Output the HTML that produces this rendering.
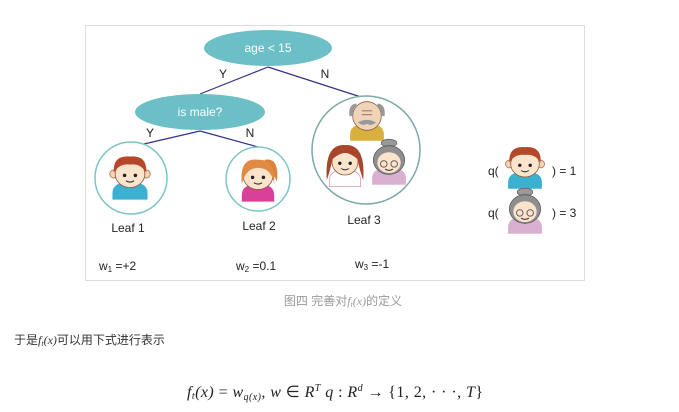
<!DOCTYPE html>
<html><head><meta charset="utf-8"><style>
html,body{margin:0;padding:0;background:#fff;width:679px;height:412px;overflow:hidden}
svg{display:block}
</style></head><body>
<svg width="679" height="412" viewBox="0 0 679 412" xmlns="http://www.w3.org/2000/svg">
<defs>
<g id="boy">
 <path d="M-13 14 Q-13 6 0 6 Q13 6 13 14 L13 19 L-13 19Z" fill="#3bb0d0"/>
 <circle cx="-12" cy="0" r="3" fill="#f4d4b8" stroke="#a86a4a" stroke-width=".6"/>
 <circle cx="12" cy="0" r="3" fill="#f4d4b8" stroke="#a86a4a" stroke-width=".6"/>
 <ellipse cx="0" cy="0" rx="11" ry="10" fill="#fbe3cc" stroke="#8a5a3a" stroke-width=".6"/>
 <path d="M-12 -1 Q-13 -14 0 -13 Q13 -14 12 -1 Q8 -8 0 -7 Q-8 -8 -12 -1Z" fill="#b5482a"/>
 <circle cx="-4" cy="1" r="1.3" fill="#222"/><circle cx="4" cy="1" r="1.3" fill="#222"/>
 <path d="M-3 5 Q0 7 3 5" stroke="#333" stroke-width=".8" fill="none"/>
</g>
<g id="girl">
 <path d="M-12 14 Q-12 6 0 6 Q12 6 12 14 L12 19 L-12 19Z" fill="#d9409a"/>
 <path d="M5 -12 Q16 -14 14 4 Q10 -4 5 -6Z" fill="#d9843a"/>
 <ellipse cx="0" cy="0" rx="11" ry="10" fill="#fbe3cc" stroke="#8a5a3a" stroke-width=".6"/>
 <path d="M-12 6 Q-14 -14 0 -12 Q13 -13 12 6 Q10 -6 0 -6 Q-9 -6 -12 6Z" fill="#e08a44"/>
 <circle cx="-4" cy="1" r="1.3" fill="#222"/><circle cx="4" cy="1" r="1.3" fill="#222"/>
 <path d="M-3 5 Q0 7 3 5" stroke="#333" stroke-width=".8" fill="none"/>
</g>
<g id="woman">
 <path d="M-12 14 Q-12 6 0 6 Q12 6 12 14 L12 19 L-12 19Z" fill="#fff" stroke="#c8a" stroke-width=".5"/>
 <path d="M-14 14 Q-16 -14 0 -13 Q16 -14 14 14 Q10 2 10 -2 L-10 -2 Q-10 2 -14 14Z" fill="#a8452a"/>
 <ellipse cx="0" cy="0" rx="10" ry="10" fill="#fbe3cc" stroke="#8a5a3a" stroke-width=".6"/>
 <path d="M-10 -2 Q-8 -12 0 -11 Q8 -12 10 -2 Q4 -7 0 -7 Q-4 -7 -10 -2Z" fill="#a8452a"/>
 <circle cx="-4" cy="1" r="1.3" fill="#222"/><circle cx="4" cy="1" r="1.3" fill="#222"/>
 <path d="M-3 5 Q0 7 3 5" stroke="#333" stroke-width=".8" fill="none"/>
</g>
<g id="granny">
 <path d="M-13 14 Q-13 6 0 6 Q13 6 13 14 L13 19 L-13 19Z" fill="#d9b0d0"/>
 <ellipse cx="0" cy="-13" rx="6" ry="3" fill="#999" stroke="#555" stroke-width=".5"/>
 <ellipse cx="0" cy="0" rx="12" ry="11" fill="#8f8f8f" stroke="#555" stroke-width=".6"/>
 <ellipse cx="0" cy="2" rx="9" ry="8" fill="#fbe3cc"/>
 <circle cx="-4" cy="3" r="2.5" fill="none" stroke="#555" stroke-width=".7"/><circle cx="4" cy="3" r="2.5" fill="none" stroke="#555" stroke-width=".7"/>
 <path d="M-3 7 Q0 9 3 7" stroke="#333" stroke-width=".8" fill="none"/>
</g>
<g id="grandpa">
 <path d="M-13 14 Q-13 6 0 6 Q13 6 13 14 L13 19 L-13 19Z" fill="#d9b040"/>
 <ellipse cx="0" cy="0" rx="11" ry="11" fill="#f0d4b8" stroke="#8a5a3a" stroke-width=".6"/>
 <path d="M-12 0 Q-13 -8 -8 -8 M12 0 Q13 -8 8 -8" stroke="#999" stroke-width="3" fill="none"/>
 <path d="M-7 5 Q0 1 7 5 Q3 8 0 6 Q-3 8 -7 5Z" fill="#999"/>
 <path d="M-4 -4 L4 -4 M-4 -1 L4 -1" stroke="#a77" stroke-width=".8"/>
</g>
</defs>
<rect x="85.5" y="25.5" width="499" height="255" fill="#fff" stroke="#ddd" stroke-width="1"/>
<g stroke="#33338a" stroke-width="1.2" fill="none">
 <line x1="268" y1="67" x2="200" y2="94"/>
 <line x1="268" y1="67" x2="364" y2="98"/>
 <line x1="200" y1="131" x2="131" y2="147"/>
 <line x1="200" y1="131" x2="258" y2="147"/>
</g>
<ellipse cx="268" cy="48" rx="64" ry="18" fill="#6cbfc6"/>
<ellipse cx="200" cy="112" rx="65" ry="18" fill="#6cbfc6"/>
<g font-family="Liberation Sans, sans-serif" font-size="12" fill="#fff" text-anchor="middle">
 <text x="268" y="52">age &lt; 15</text>
 <text x="200" y="116">is male?</text>
</g>
<g stroke="#7cc5c8" stroke-width="1.5" fill="#fff">
 <circle cx="131" cy="178" r="36"/>
 <circle cx="258" cy="179" r="32"/>
</g>
<circle cx="366" cy="150" r="54" fill="#fff" stroke="#7aa9a6" stroke-width="1.5"/>
<use href="#boy" transform="translate(130,174) scale(1.35)"/>
<use href="#girl" transform="translate(258,176) scale(1.35)"/>
<use href="#grandpa" transform="translate(367,116) scale(1.3)"/>
<use href="#woman" transform="translate(345,162) scale(1.3)"/>
<use href="#granny" transform="translate(389,160) scale(1.3)"/>
<use href="#boy" transform="translate(525,164) scale(1.3)"/>
<use href="#granny" transform="translate(525,209) scale(1.3)"/>
<g font-family="Liberation Sans, sans-serif" font-size="12" fill="#222" text-anchor="middle">
 <text x="223" y="78">Y</text><text x="325" y="78">N</text>
 <text x="150" y="137">Y</text><text x="250" y="137">N</text>
 <text x="128" y="232">Leaf 1</text>
 <text x="259" y="230">Leaf 2</text>
 <text x="364" y="224">Leaf 3</text>
</g>
<g font-family="Liberation Sans, sans-serif" font-size="12" fill="#222">
 <text x="99" y="270">w<tspan font-size="8" dy="2">1</tspan><tspan dy="-2"> =+2</tspan></text>
 <text x="236" y="270">w<tspan font-size="8" dy="2">2</tspan><tspan dy="-2"> =0.1</tspan></text>
 <text x="355" y="268">w<tspan font-size="8" dy="2">3</tspan><tspan dy="-2"> =-1</tspan></text>
 <text x="488" y="175">q(</text><text x="552" y="175">) = 1</text>
 <text x="488" y="217">q(</text><text x="552" y="217">) = 3</text>
</g>
<text x="343" y="305" text-anchor="middle" font-family="Liberation Sans, Noto Sans CJK SC, sans-serif" font-size="12" fill="#999">图四 完善对<tspan font-family="Liberation Serif, serif" font-style="italic">f<tspan font-size="8" dy="2">t</tspan><tspan dy="-2">(x)</tspan></tspan>的定义</text>
<text x="14" y="344" font-family="Liberation Sans, Noto Sans CJK SC, sans-serif" font-size="12" fill="#333">于是<tspan font-family="Liberation Serif, serif" font-style="italic">f<tspan font-size="8" dy="2">t</tspan><tspan dy="-2">(x)</tspan></tspan>可以用下式进行表示</text>
<text x="187" y="397" textLength="296" lengthAdjust="spacing" font-family="Liberation Serif, serif" font-size="16" fill="#222"><tspan font-style="italic">f<tspan font-size="10" dy="2">t</tspan><tspan dy="-2">(x)</tspan></tspan> = <tspan font-style="italic">w<tspan font-size="10" dy="3">q(x)</tspan><tspan dy="-3">, w</tspan></tspan> ∈ <tspan font-style="italic">R<tspan font-size="10" dy="-6">T</tspan><tspan dy="6"> q</tspan></tspan> : <tspan font-style="italic">R<tspan font-size="10" dy="-6">d</tspan></tspan><tspan dy="6"> → {1, 2, · · ·, </tspan><tspan font-style="italic">T</tspan>}</text>
</svg>
</body></html>
